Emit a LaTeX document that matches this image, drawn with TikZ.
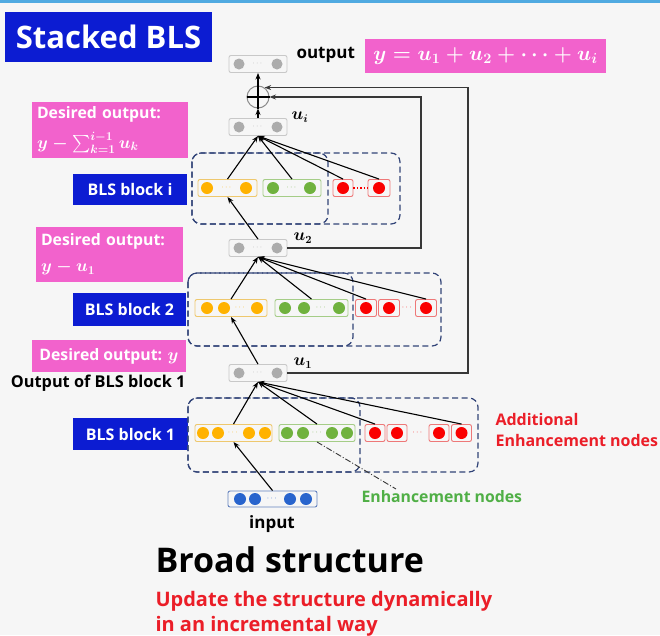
\documentclass[tikz,border=0pt]{standalone}
\usepackage{fontspec}
\setmainfont{Open Sans}
\usepackage{amsmath,bm}
\usetikzlibrary{arrows.meta}

\definecolor{bgcol}{RGB}{246,246,246}
\definecolor{topblue}{RGB}{80,170,225}
\definecolor{blsblue}{RGB}{12,28,210}
\definecolor{pinkcol}{RGB}{242,98,204}
\definecolor{dashcol}{RGB}{50,68,120}
\definecolor{graydot}{RGB}{172,172,172}
\definecolor{grayline}{RGB}{200,200,200}
\definecolor{yelball}{RGB}{255,178,0}
\definecolor{yelline}{RGB}{238,200,110}
\definecolor{grnball}{RGB}{112,178,62}
\definecolor{grnline}{RGB}{165,205,135}
\definecolor{redball}{RGB}{250,0,0}
\definecolor{redline}{RGB}{238,120,120}
\definecolor{inball}{RGB}{40,100,205}
\definecolor{inline}{RGB}{100,130,190}
\definecolor{fbcol}{RGB}{55,55,55}
\definecolor{txtred}{RGB}{235,30,40}
\definecolor{txtgrn}{RGB}{80,175,70}

\newcommand{\bigmath}[1]{{\fontsize{17.5}{26}\selectfont$#1$}}

\tikzset{
  grp/.style={draw=#1, rounded corners=2pt, line width=0.9pt, minimum height=17pt, inner sep=0pt},
  ball/.style={circle, fill=#1, inner sep=0pt, minimum size=12pt},
  dots/.style={text=#1, inner sep=0pt, font=\footnotesize},
  bluebox/.style={fill=blsblue, text=white, inner sep=0pt, font=\fontsize{16}{18}\selectfont\bfseries},
  pinkbox/.style={fill=pinkcol, text=white, inner sep=0pt, align=left, font=\fontsize{15.8}{26}\selectfont\bfseries\boldmath},
  blockline/.style={draw=dashcol, dashed, dash pattern=on 6pt off 3.5pt, line width=1.2pt, rounded corners=9pt},
  ulabel/.style={inner sep=0pt, font=\fontsize{16}{18}\selectfont\boldmath}
}

\begin{document}
\begin{tikzpicture}[x=1pt, y=-1pt, >={Stealth[length=6.5pt,width=5pt]}, line width=1.1pt]
\useasboundingbox (0,0) rectangle (660,635);
\fill[bgcol] (0,0) rectangle (660,635);
\fill[topblue] (0,0) rectangle (660,3);

% title
\node[bluebox, minimum width=207pt, minimum height=50pt, font=\fontsize{31}{36}\selectfont\bfseries] (title) at (108.5,37) {Stacked BLS};

% output part
\node[inner sep=0pt, anchor=west, font=\fontsize{17}{18}\selectfont\bfseries] (outtxt) at (296,55) {output};
\node[pinkbox, minimum width=241pt, minimum height=34pt, font=\fontsize{21}{24}\selectfont\boldmath] (sum) at (485.5,56) {$y = u_1 + u_2 + \cdots + u_i$};

% gray output nodes
\foreach \n/\y in {out/64, ui/127, utwo/248, uone/373}{
  \node[grp=grayline, minimum width=58pt] (\n) at (258,\y) {};
  \foreach \d in {-19,19}
    \node[ball=graydot, minimum size=11pt] at (258+\d,\y) {};
  \node[dots=graydot] at (258,\y) {$\cdots$};
}
\node[ulabel, anchor=west] (lui) at (291,117) {$u_i$};
\node[ulabel, anchor=west] (lutwo) at (293,238) {$u_2$};
\node[ulabel, anchor=west] (luone) at (293,363) {$u_1$};

% adder
\node[circle, draw=graydot!80!black, line width=1pt, minimum size=22pt, inner sep=0pt] (plus) at (258,97) {};
\draw[line width=1.3pt] (plus.north) -- (plus.south) (plus.west) -- (plus.east);
\draw[->] (ui.north) -- (plus.south);
\draw[->] (plus.north) -- (out.south);

% feedback lines
\coordinate (cone) at (468,373);
\coordinate (ctwo) at (421,248);
\draw[->, fbcol] (uone.east) -- (cone) |- (plus.55);
\draw[->, fbcol] (utwo.east) -- (ctwo) |- (plus.east);

% desired outputs
\node[pinkbox, minimum width=156pt, minimum height=56pt, text width=146pt, font=\fontsize{15.8}{22}\selectfont\bfseries\boldmath] (dsi) at (110,130) {Desired output:\\[8pt]\bigmath{y-\sum_{k=1}^{i-1} u_k}};
\node[pinkbox, minimum width=147pt, minimum height=55pt, text width=137pt] (dstwo) at (109.5,254.5) {Desired output:\\\bigmath{y-u_1}};
\node[pinkbox, minimum width=154pt, minimum height=32pt] (dsone) at (109,356) {Desired output: \bigmath{y}};
\node[inner sep=0pt, anchor=east, font=\fontsize{16.3}{18}\selectfont\bfseries] (outone) at (186,383) {Output of BLS block 1};

% BLS block i
\node[bluebox, minimum width=114pt, minimum height=31pt] (bi) at (130,189.5) {BLS block i};
\draw[blockline] (192,153) rectangle (328,224);
\draw[blockline] (192,153) rectangle (400,224);
\node[grp=yelline, minimum width=59pt] (yi) at (227.5,188) {};
\foreach \x in {207,246} \node[ball=yelball] at (\x,188) {};
\node[dots=yelball] at (227,188) {$\cdots$};
\node[grp=grnline, minimum width=58pt] (gi) at (292,188) {};
\foreach \x in {273,310} \node[ball=grnball] at (\x,188) {};
\node[dots=grnball] at (292,188) {$\cdots$};
\node[grp=redline, minimum width=20pt] (ria) at (343,188) {};
\node[grp=redline, minimum width=22pt] (rib) at (379,188) {};
\foreach \x in {343,379} \node[ball=redball] at (\x,188) {};
\draw[redball, dotted, line width=1.5pt] (ria.east) -- (rib.west);
\foreach \s in {yi, gi, ria, rib} \draw[->] (\s.north) -- (ui.south);
\draw[->] (utwo.north) -- (yi.south);

% BLS block 2
\node[bluebox, minimum width=113pt, minimum height=33pt] (btwo) at (129.5,309.5) {BLS block 2};
\draw[blockline] (188,273) rectangle (353,346);
\draw[blockline] (188,273) rectangle (441,346);
\node[grp=yelline, minimum width=72pt] (ytwo) at (231,308) {};
\foreach \x in {207,224,257} \node[ball=yelball] at (\x,308) {};
\node[dots=yelball] at (240.5,308) {$\cdots$};
\node[grp=grnline, minimum width=73pt] (gtwo) at (311.5,308) {};
\foreach \x in {285,304,339} \node[ball=grnball] at (\x,308) {};
\node[dots=grnball] at (321.5,308) {$\cdots$};
\foreach \n/\x in {a/366, b/389, c/426}{
  \node[grp=redline, minimum width=21pt] (rtwo\n) at (\x,308) {};
  \node[ball=redball] at (\x,308) {};
}
\node[dots=redball] at (407.5,308) {$\cdots$};
\foreach \s in {ytwo, gtwo, rtwoa, rtwoc} \draw[->] (\s.north) -- (utwo.south);
\draw[->] (uone.north) -- (ytwo.south);

% BLS block 1
\node[bluebox, minimum width=115pt, minimum height=32pt] (bone) at (130.5,434) {BLS block 1};
\draw[blockline] (188,398) rectangle (360,472);
\draw[blockline] (188,398) rectangle (478,472);
\node[grp=yelline, minimum width=77pt] (yone) at (233.5,433) {};
\foreach \x in {203,218,249,265} \node[ball=yelball] at (\x,433) {};
\node[dots=yelball] at (233.5,433) {$\cdots$};
\node[grp=grnline, minimum width=76pt] (gone) at (317,433) {};
\foreach \x in {287,303,332,347} \node[ball=grnball] at (\x,433) {};
\node[dots=grnball] at (317.5,433) {$\cdots$};
\foreach \n/\x in {a/375, b/397, c/439, d/461.5}{
  \node[grp=redline, minimum width=20pt] (rone\n) at (\x,433) {};
  \node[ball=redball] at (\x,433) {};
}
\node[dots=redball] at (418,433) {$\cdots$};
\foreach \s in {yone, gone, ronea, roned} \draw[->] (\s.north) -- (uone.south);

% input
\node[grp=inline, minimum width=89pt, minimum height=16pt] (inp) at (272.5,499) {};
\foreach \x in {240,255,290,306} \node[ball=inball] at (\x,499) {};
\node[dots=inball] at (272.5,499) {$\cdots$};
\node[inner sep=0pt, font=\fontsize{17}{18}\selectfont\bfseries] (intxt) at (272,524) {input};
\draw[->] (inp.north) -- (yone.south);

% labels
\node[inner sep=0pt, anchor=west, text=txtgrn, font=\fontsize{15.8}{18}\selectfont\bfseries] (enh) at (361,497) {Enhancement nodes};
\coordinate (enhtip) at (396,489);
\draw[dash pattern=on 6pt off 2pt on 1pt off 2pt, line width=0.9pt, fbcol] (gone.south) -- (enhtip);
\node[inner sep=0pt, anchor=north west, align=left, text=txtred, font=\fontsize{16}{21}\selectfont\bfseries] (addenh) at (495,413) {Additional\\Enhancement nodes};

% bottom text
\node[inner sep=0pt, anchor=base west, font=\fontsize{34}{38}\selectfont\bfseries] (broad) at (155,572) {Broad structure};
\node[inner sep=0pt, anchor=base west, text=txtred, font=\fontsize{20}{22}\selectfont\bfseries] (updone) at (155,606) {Update the structure dynamically};
\node[inner sep=0pt, anchor=base west, text=txtred, font=\fontsize{20}{22}\selectfont\bfseries] (updtwo) at (155,631) {in an incremental way};
\end{tikzpicture}
\end{document}
